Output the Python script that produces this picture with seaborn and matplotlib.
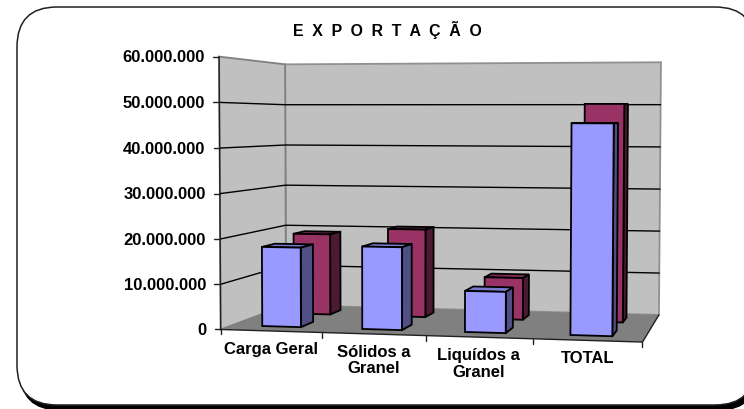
import numpy as np
import pandas as pd
import matplotlib
matplotlib.use("Agg")
import matplotlib.pyplot as plt
from matplotlib.patches import Polygon, FancyBboxPatch
import seaborn as sns

categories = ["Carga Geral", "Sólidos a\nGranel", "Liquídos a\nGranel", "TOTAL"]
frente = [17800000, 18300000, 9000000, 45600000]
fundo = [19100000, 20600000, 9700000, 50000000]
y_ticks = [0, 10000000, 20000000, 30000000, 40000000, 50000000, 60000000]
y_tick_labels = ["0", "10.000.000", "20.000.000", "30.000.000", "40.000.000", "50.000.000", "60.000.000"]
title = "E  X  P  O  R  T  A  Ç  Ã  O"

YMAX = y_ticks[-1]
NCAT = len(categories)
series_depth = {"Frente": (0.16, 0.36), "Fundo": (0.66, 0.85)}
series_colors = {
    "Frente": ("#9999FF", "#4F4F85", "#7A7ACC"),
    "Fundo": ("#993366", "#4D1A33", "#7A2952"),
}

sns.set_theme(style="white")
plt.rcParams["font.family"] = ["Liberation Sans", "DejaVu Sans"]
plt.rcParams["font.weight"] = "bold"

fig = plt.figure(figsize=(7.44, 4.10), dpi=100)
ax = fig.add_axes([0, 0, 1, 1])
ax.set_xlim(0, 744)
ax.set_ylim(410, 0)
ax.axis("off")

# Camera of the 3D box: world (category, value share, depth) -> picture position
share = np.array([0, 1, 2, 3, 4, 5, 6]) / 6
edge_fl = [330.5, 285, 240, 194.5, 148.5, 103.5, 57.5]
edge_bl = [306.5, 266.5, 226.2, 186, 146, 105.5, 65.5]
edge_br = [315, 274, 231.5, 190.5, 148, 106, 63.5]
world = [[1, 0, 0], [2, 0, 0], [3, 0, 0], [4, 0, 0]]
image = [[322, 333.5], [425, 337.5], [532, 340], [643, 343]]
for s, a, b, c in zip(share, edge_fl, edge_bl, edge_br):
    world += [[0, s, 0], [0, s, 1], [4, s, 1]]
    image += [[221 - 2 * s, a], [286 - s, b], [659 + 2 * s, c]]
rows = []
for (X, Y, Z), (u, v) in zip(world, image):
    rows.append([X, Y, Z, 1, 0, 0, 0, 0, -u * X, -u * Y, -u * Z, -u])
    rows.append([0, 0, 0, 0, X, Y, Z, 1, -v * X, -v * Y, -v * Z, -v])
P = np.linalg.svd(np.array(rows, float))[2][-1].reshape(3, 4)


def proj(x, value, z):
    h = P @ np.array([x, value / YMAX, z, 1.0])
    return h[0] / h[2], h[1] / h[2]


def face(pts, fc, ec="black", lw=1.3, zo=2):
    ax.add_patch(Polygon([proj(*p) for p in pts], closed=True, fc=fc, ec=ec, lw=lw,
                         joinstyle="miter", zorder=zo))


# Chart frame with its shadow
ax.add_patch(FancyBboxPatch((20, 11), 738, 400, boxstyle="round,pad=0,rounding_size=40",
                            fc="black", ec="black", lw=1, zorder=0))
ax.add_patch(FancyBboxPatch((17, 8), 738, 398, boxstyle="round,pad=0,rounding_size=40",
                            fc="white", ec="#202020", lw=1.1, zorder=0.5))

# Walls and floor
face([(0, YMAX, 1), (NCAT, YMAX, 1), (NCAT, 0, 1), (0, 0, 1)], "#C0C0C0", "#909090", 1.3, 1)
face([(0, YMAX, 0), (0, YMAX, 1), (0, 0, 1), (0, 0, 0)], "#C0C0C0", "#808080", 1.3, 1)
face([(0, 0, 0), (NCAT, 0, 0), (NCAT, 0, 1), (0, 0, 1)], "#808080", "none", 0, 1.1)

for v in y_ticks:
    if 0 < v < YMAX:
        xs, ys = zip(proj(0, v, 0), proj(0, v, 1), proj(NCAT, v, 1))
        ax.plot(xs, ys, color="black", lw=1.0, zorder=1.2)

# Axis lines, ticks and labels
xs, ys = zip(proj(0, YMAX, 0), proj(0, 0, 0), proj(NCAT, 0, 0), proj(NCAT, 0, 1))
ax.plot(xs, ys, color="#202020", lw=1.0, zorder=1.3)
for v, lab in zip(y_ticks, y_tick_labels):
    px, py = proj(0, v, 0)
    ax.plot([px - 6, px], [py, py], color="#202020", lw=1.0, zorder=1.3)
    ax.text(px - 14, py, lab, ha="right", va="center", fontsize=12, color="black")
for i in range(NCAT + 1):
    px, py = proj(i, 0, 0)
    ax.plot([px, px], [py, py + 5], color="#202020", lw=1.0, zorder=1.3)
for i, lab in enumerate(categories):
    px, py = proj(i + 0.5, 0, 0)
    ax.text(px, py + 10, lab, ha="center", va="top", fontsize=12, color="black",
            linespacing=1.12)

ax.text(387.5, 30, title, ha="center", va="center", fontsize=11.4, color="black")

# Bars: seaborn lays them out, the camera projects each one into the 3D box
df = pd.DataFrame({
    "carga": categories * 2,
    "valor": frente + fundo,
    "serie": ["Frente"] * NCAT + ["Fundo"] * NCAT,
})
ax_bars = fig.add_axes([0, 0, 1, 1])
sns.barplot(data=df, x="carga", y="valor", hue="serie", hue_order=["Frente", "Fundo"],
            dodge=False, width=0.39, errorbar=None, legend=False, ax=ax_bars)
ax_bars.set_visible(False)

zo = 3
for name, cont in reversed(list(zip(["Frente", "Fundo"], ax_bars.containers))):
    z0, z1 = series_depth[name]
    cf, cs, ct = series_colors[name]
    for rect in cont:
        x0 = rect.get_x() + 0.5
        x1 = x0 + rect.get_width()
        h = rect.get_height()
        face([(x0, h, z1), (x1, h, z1), (x1, h, z0), (x0, h, z0)], ct, zo=zo)
        face([(x1, 0, z0), (x1, 0, z1), (x1, h, z1), (x1, h, z0)], cs, zo=zo)
        face([(x0, 0, z0), (x1, 0, z0), (x1, h, z0), (x0, h, z0)], cf, zo=zo)
        zo += 1

fig.savefig("out.png", dpi=100)
